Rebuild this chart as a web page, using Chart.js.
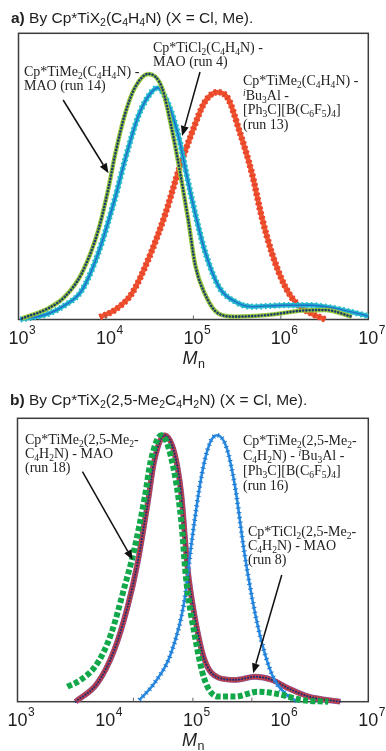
<!DOCTYPE html>
<html>
<head>
<meta charset="utf-8">
<script src="https://cdn.jsdelivr.net/npm/chart.js"></script>
<style>
  html, body { margin: 0; padding: 0; background: #fff; }
  #page { position: relative; width: 386px; height: 751px; overflow: hidden; }
  .panel { position: absolute; left: 0; width: 386px; }
  .title { position: absolute; font: 15.5px "Liberation Sans", Arial, sans-serif; color: #1e1e1e; white-space: nowrap; }
  .note { position: absolute; font: 14px "Liberation Serif", "Times New Roman", serif; line-height: 14px; color: #222; white-space: nowrap; }
  sub, sup { font-size: 0.68em; line-height: 0; }
  sub { vertical-align: -0.28em; }
  sup { vertical-align: 0.45em; }
</style>
</head>
<body>
<div id="page">
  <div class="panel" style="top:0; height:370px"><canvas id="chartA"></canvas></div>
  <div class="panel" style="top:370px; height:381px"><canvas id="chartB"></canvas></div>

  <div class="title" style="left:11px; top:9px"><b>a)</b> By Cp*TiX<sub>2</sub>(C<sub>4</sub>H<sub>4</sub>N) (X = Cl, Me).</div>
  <div class="note" style="left:153px; top:41px">Cp*TiCl<sub>2</sub>(C<sub>4</sub>H<sub>4</sub>N) -<br>MAO (run 4)</div>
  <div class="note" style="left:24px; top:65px">Cp*TiMe<sub>2</sub>(C<sub>4</sub>H<sub>4</sub>N) -<br>MAO (run 14)</div>
  <div class="note" style="left:243px; top:74px; line-height:14.5px">Cp*TiMe<sub>2</sub>(C<sub>4</sub>H<sub>4</sub>N) -<br><sup><i>i</i></sup>Bu<sub>3</sub>Al -<br>[Ph<sub>3</sub>C][B(C<sub>6</sub>F<sub>5</sub>)<sub>4</sub>]<br>(run 13)</div>

  <div class="title" style="left:10px; top:391px"><b>b)</b> By Cp*TiX<sub>2</sub>(2,5-Me<sub>2</sub>C<sub>4</sub>H<sub>2</sub>N) (X = Cl, Me).</div>
  <div class="note" style="left:25px; top:433px">Cp*TiMe<sub>2</sub>(2,5-Me<sub>2</sub>-<br>C<sub>4</sub>H<sub>2</sub>N) - MAO<br>(run 18)</div>
  <div class="note" style="left:243px; top:433px; line-height:15px">Cp*TiMe<sub>2</sub>(2,5-Me<sub>2</sub>-<br>C<sub>4</sub>H<sub>2</sub>N) - <sup><i>i</i></sup>Bu<sub>3</sub>Al -<br>[Ph<sub>3</sub>C][B(C<sub>6</sub>F<sub>5</sub>)<sub>4</sub>]<br>(run 16)</div>
  <div class="note" style="left:248px; top:525px">Cp*TiCl<sub>2</sub>(2,5-Me<sub>2</sub>-<br>C<sub>4</sub>H<sub>2</sub>N) - MAO<br>(run 8)</div>
</div>

<script>
// GPC traces, normalised detector response vs Mn

// a) pyrrolyl complexes
const mnRun14 = [1.1e3, 2.19e3, 3.39e3, 5.25e3, 8.13e3, 1.07e4, 1.26e4, 1.66e4, 2.14e4, 3.05e4, 4.37e4, 5.62e4, 7.08e4, 8.71e4, 1.05e5, 1.35e5, 1.95e5, 3.02e5, 7.24e5, 1.74e6, 3.24e6, 6.46e6];
const wRun14  = [0.004, 0.039, 0.08, 0.16, 0.31, 0.46, 0.57, 0.72, 0.81, 0.858, 0.81, 0.67, 0.51, 0.35, 0.19, 0.09, 0.02, 0.01, 0.016, 0.031, 0.033, 0.01];

const mnRun4 = [1.05e3, 2.19e3, 3.39e3, 5.25e3, 8.13e3, 1.26e4, 1.66e4, 2.34e4, 3.05e4, 3.89e4, 5.13e4, 6.76e4, 8.71e4, 1.05e5, 1.35e5, 1.95e5, 3.02e5, 4.68e5, 1.12e6, 2.24e6, 4.17e6, 1.0e7];
const wRun4  = [0.0, 0.02, 0.05, 0.10, 0.23, 0.42, 0.56, 0.71, 0.78, 0.81, 0.755, 0.64, 0.48, 0.37, 0.24, 0.115, 0.062, 0.045, 0.05, 0.05, 0.039, 0.012];

const mnRun13 = [8.5e3, 1.26e4, 1.97e4, 3.05e4, 4.79e4, 6.76e4, 9.55e4, 1.35e5, 1.88e5, 2.51e5, 3.27e5, 4.68e5, 6.03e5, 7.94e5, 1.12e6, 1.58e6, 2.26e6, 3.24e6];
const wRun13  = [0.008, 0.033, 0.09, 0.21, 0.37, 0.52, 0.65, 0.76, 0.794, 0.77, 0.67, 0.51, 0.36, 0.23, 0.115, 0.05, 0.02, 0.0];

// b) 2,5-dimethylpyrrolyl complexes
const mnRun18 = [3.7e3, 5.25e3, 8.13e3, 1.17e4, 1.66e4, 2.14e4, 2.82e4, 3.31e4, 4.37e4, 5.62e4, 7.36e4, 8.32e4, 1.07e5, 1.35e5, 1.95e5, 3.02e5, 5.5e5, 9.33e5, 1.74e6, 3.5e6];
const wRun18  = [0.053, 0.077, 0.135, 0.24, 0.405, 0.535, 0.72, 0.85, 0.94, 0.865, 0.64, 0.44, 0.22, 0.08, 0.018, 0.018, 0.035, 0.027, 0.006, 0.0];

const mnRun8 = [4.6e3, 8.13e3, 1.26e4, 1.8e4, 2.34e4, 3.05e4, 3.63e4, 4.74e4, 6.17e4, 7.36e4, 8.71e4, 1.05e5, 1.35e5, 1.95e5, 3.02e5, 5.13e5, 7.94e5, 1.23e6, 2.09e6, 4.79e6];
const wRun8  = [0.0, 0.065, 0.18, 0.335, 0.49, 0.70, 0.85, 0.94, 0.877, 0.735, 0.47, 0.30, 0.15, 0.085, 0.077, 0.088, 0.077, 0.047, 0.018, 0.0];

const mnRun16 = [2.45e4, 3.63e4, 5.62e4, 8.04e4, 9.55e4, 1.26e5, 1.55e5, 1.88e5, 2.4e5, 3.02e5, 3.89e5, 5.13e5, 6.61e5, 8.51e5, 1.12e6, 1.45e6, 1.66e6];
const wRun16  = [0.006, 0.065, 0.17, 0.36, 0.55, 0.80, 0.91, 0.94, 0.90, 0.76, 0.52, 0.31, 0.17, 0.077, 0.03, 0.006, 0.0];

// x axis
const decades = [1e3, 1e4, 1e5, 1e6, 1e7];

const pts = (xs, ys) => xs.map((x, i) => ({ x, y: ys[i] }));

function trace(data, color, width, dash, cap) {
  return {
    data,
    borderColor: color,
    borderWidth: width,
    borderDash: dash || [],
    borderCapStyle: cap || 'butt',
    pointRadius: 0,
    fill: false,
    cubicInterpolationMode: 'monotone',
    clip: false
  };
}

function arrow(ctx, x0, y0, x1, y1) {
  const ang = Math.atan2(y1 - y0, x1 - x0);
  const len = 10, half = 4;
  const bx = x1 - len * Math.cos(ang), by = y1 - len * Math.sin(ang);
  ctx.beginPath();
  ctx.moveTo(x0, y0);
  ctx.lineTo(bx, by);
  ctx.stroke();
  ctx.beginPath();
  ctx.moveTo(x1, y1);
  ctx.lineTo(bx + half * Math.sin(ang), by - half * Math.cos(ang));
  ctx.lineTo(bx - half * Math.sin(ang), by + half * Math.cos(ang));
  ctx.closePath();
  ctx.fill();
}

// frame, inward ticks, 10^n labels, Mn title and pointer arrows
const framePlugin = {
  id: 'frame',
  beforeDatasetsDraw(chart) {
    const { ctx, chartArea: a } = chart;
    ctx.save();
    ctx.strokeStyle = '#3c3c3c';
    ctx.lineWidth = 1.5;
    ctx.strokeRect(a.left, a.top, a.right - a.left, a.bottom - a.top);
    ctx.restore();
  },
  afterDatasetsDraw(chart, args, opts) {
    const { ctx, chartArea: a, scales: { x, y } } = chart;
    ctx.save();

    ctx.strokeStyle = '#666';
    ctx.lineWidth = 1;
    (opts.marks || []).forEach(v => {
      const px = x.getPixelForValue(v);
      ctx.beginPath();
      ctx.moveTo(px, a.bottom);
      ctx.lineTo(px, a.bottom - 4);
      ctx.stroke();
    });

    ctx.fillStyle = '#1e1e1e';
    ctx.textBaseline = 'middle';
    decades.forEach(v => {
      const px = x.getPixelForValue(v);
      ctx.font = '18px "Liberation Sans", Arial, sans-serif';
      ctx.textAlign = 'center';
      ctx.fillText('10', px, a.bottom + 19.5);
      const w = ctx.measureText('10').width;
      ctx.font = '12px "Liberation Sans", Arial, sans-serif';
      ctx.textAlign = 'left';
      ctx.fillText(String(Math.round(Math.log10(v))), px + w / 2 + 0.5, a.bottom + 11);
    });

    // axis title: italic M with subscript n
    const cx = (a.left + a.right) / 2;
    ctx.textBaseline = 'alphabetic';
    ctx.font = 'italic 18px "Liberation Sans", Arial, sans-serif';
    const mw = ctx.measureText('M').width;
    ctx.font = '12.5px "Liberation Sans", Arial, sans-serif';
    const nw = ctx.measureText('n').width;
    const x0 = cx - (mw + nw) / 2;
    ctx.font = 'italic 18px "Liberation Sans", Arial, sans-serif';
    ctx.textAlign = 'left';
    ctx.fillText('M', x0, a.bottom + 44.5);
    ctx.font = '12.5px "Liberation Sans", Arial, sans-serif';
    ctx.fillText('n', x0 + mw + 0.5, a.bottom + 48.5);

    ctx.strokeStyle = '#111';
    ctx.fillStyle = '#111';
    ctx.lineWidth = 1.5;
    (opts.arrows || []).forEach(ar => {
      arrow(ctx,
        x.getPixelForValue(ar.from[0]), y.getPixelForValue(ar.from[1]),
        x.getPixelForValue(ar.to[0]), y.getPixelForValue(ar.to[1]));
    });
    ctx.restore();
  }
};

function makePanel(id, datasets, pad, frame) {
  return new Chart(document.getElementById(id).getContext('2d'), {
    type: 'line',
    data: { datasets },
    options: {
      responsive: true,
      maintainAspectRatio: false,
      animation: false,
      layout: { padding: pad },
      scales: {
        x: { type: 'logarithmic', min: 1e3, max: 1e7, display: false },
        y: { type: 'linear', min: 0, max: 1, display: false }
      },
      plugins: {
        legend: { display: false },
        tooltip: { enabled: false },
        frame
      }
    },
    plugins: [framePlugin]
  });
}

const run14 = pts(mnRun14, wRun14);
const run4 = pts(mnRun4, wRun4);
const run13 = pts(mnRun13, wRun13);

makePanel('chartA', [
  trace(run14, '#1c3a6b', 2.6, [0.01, 3.2], 'round'),
  trace(run14, '#97c83e', 4.4),
  trace(run4, '#1f6ed0', 1.4),
  trace(run4, '#22b8c9', 6.2, [1.6, 3.0]),
  trace(run4, '#22b8c9', 4.4),
  trace(run13, '#e8462a', 6.6, [2.2, 2.6]),
  trace(run13, '#ef5330', 4.8)
], { left: 18.5, top: 33.3, right: 17.7, bottom: 50.5 }, {
  marks: [1e4, 1e5, 1e6],
  arrows: [
    { from: [3.24e3, 0.767], to: [1.07e4, 0.511] },
    { from: [1.19e5, 0.865], to: [7.43e4, 0.641] }
  ]
});

const run18 = pts(mnRun18, wRun18);
const run8 = pts(mnRun8, wRun8);
const run16 = pts(mnRun16, wRun16);

makePanel('chartB', [
  trace(run18, '#12a84a', 6, [5, 2.4]),
  trace(run16, '#1a78d4', 5, [1, 3.8]),
  trace(run16, '#2a8be0', 2.6),
  trace(run8, '#1d2d78', 2.1, [0.01, 3], 'round'),
  trace(run8, '#b6414c', 5),
  trace(run8, '#8a66bb', 5.8)
], { left: 17.5, top: 48.3, right: 17.7, bottom: 49.3 }, {
  marks: [2.1e4, 1e5, 4.7e5],
  arrows: [
    { from: [5.5e3, 0.812], to: [2.06e4, 0.50] },
    { from: [1.03e6, 0.447], to: [4.86e5, 0.10] }
  ]
});
</script>
</body>
</html>
